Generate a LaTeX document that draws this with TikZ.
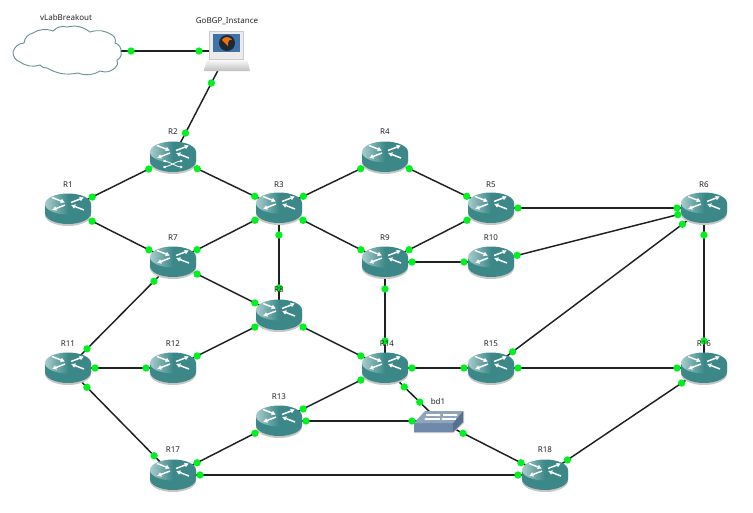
\documentclass[tikz,border=0pt]{standalone}
\usepackage{fontspec}
\setmainfont{Noto Sans}
\usetikzlibrary{arrows.meta,calc}
\definecolor{rbody}{HTML}{3C8888}
\definecolor{rdark}{HTML}{2F7777}
\definecolor{rlight}{HTML}{A9CCCC}
\definecolor{lnk}{HTML}{1E2222}
\definecolor{dotc}{HTML}{00F020}
\definecolor{cloudc}{HTML}{6E9294}
\definecolor{swfront}{HTML}{6F89AA}
\definecolor{swside}{HTML}{55708F}
\definecolor{swtop}{HTML}{8EA4BD}
\definecolor{lapscreen}{HTML}{3F73A8}
\definecolor{lapdark}{HTML}{1E2A33}
\definecolor{laporange}{HTML}{F07010}
\tikzset{
  x=0.75pt,y=-0.75pt,
  anchorhub/.style={circle,minimum size=40.5pt,inner sep=0pt,outer sep=0pt},
  linkline/.style={draw=lnk,line width=1.1pt},
  portdot/.style={circle,fill=dotc,minimum size=5.5pt,inner sep=0pt},
  lab/.style={font=\fontsize{6}{7}\selectfont,text=black!85,inner sep=0pt},
  arw/.style={white,line width=1.1pt,-{Latex[length=3.2pt,width=3.8pt]}},
  pics/routericon/.style={code={
    \fill[black!22] (-23,-5) -- (-23,6) arc[start angle=180,end angle=0,x radius=23,y radius=11] -- (23,-5) -- cycle;
    \fill[rbody] (-23,-5) -- (-23,4) arc[start angle=180,end angle=0,x radius=23,y radius=11] -- (23,-5) -- cycle;
    \shade[left color=rlight,right color=rbody,middle color=rbody] (0,-5) circle[x radius=23,y radius=10.5];
    \draw[arw] (-16,-11.5) -- (-3,-6.5);
    \draw[arw] (16,1) -- (3,-4);
    \draw[arw] (3,-6.5) -- (16,-11.5);
    \draw[arw] (-3,-4) -- (-16,1);
  }},
  pics/switchmark/.style={code={
    \draw[white,line width=0.6pt,-{Latex[length=2pt,width=2.2pt]}] (-10,4) .. controls (-3,4) and (3,10) .. (10,10);
    \draw[white,line width=0.6pt,-{Latex[length=2pt,width=2.2pt]}] (-10,10) .. controls (-3,10) and (3,4) .. (10,4);
    \draw[white,line width=0.6pt,{Latex[length=2pt,width=2.2pt]}-] (-10,4) -- (-9,4);
    \draw[white,line width=0.6pt,{Latex[length=2pt,width=2.2pt]}-] (-10,10) -- (-9,10);
  }}
}
\begin{document}
\begin{tikzpicture}
\useasboundingbox (0,0) rectangle (753,512);
\fill[white] (0,0) rectangle (753,512);
% anchors
\foreach \n/\px/\py in {R1/68/209,R2/173/157,R3/279/208,R4/385/157,R5/491/208,R6/704/208,R7/173/262,R8/279/315,R9/385/262,R10/491/262,R11/68/368,R12/173/368,R13/279/421,R14/385/368,R15/491/368,R16/704/368,R17/173/475,R18/545/475,bd1/439/421}
  \node[anchorhub] (\n) at (\px,\py) {};
\node[rectangle,minimum width=84pt,minimum height=30pt,inner sep=0pt,outer sep=0pt] (cloud) at (75,51) {};
\node[rectangle,minimum width=43.5pt,minimum height=48pt,inner sep=0pt,outer sep=0pt] (gobgp) at (228,51) {};
% lines
\def\links{cloud/gobgp,gobgp/R2,R2/R1,R2/R3,R1/R7,R3/R7,R3/R4,R3/R8,R3/R9,R4/R5,R5/R9,R5/R6,R6/R10,R6/R15,R6/R16,R7/R8,R7/R11,R8/R12,R8/R14,R9/R10,R9/R14,R11/R12,R11/R17,R13/R14,R13/R17,R13/bd1,R14/R15,R14/bd1,R15/R16,R16/R18,R17/R18,R18/bd1}
\foreach \a/\b in \links
  \draw[linkline] (\a.center) -- (\b.center);
% routers
\foreach \n in {R1,R2,R3,R4,R5,R6,R7,R8,R9,R10,R11,R12,R13,R14,R15,R16,R17,R18}
  \pic at (\n.center) {routericon};
\pic at (R2.center) {switchmark};
% switch bd1
\fill[black!22] (414,423) -- (414,433) -- (453,433) -- (464,423) -- (464,411) -- cycle;
\fill[swfront] (414,423) -- (453,423) -- (453,432) -- (414,432) -- cycle;
\fill[swside] (453,423) -- (463,411) -- (463,422) -- (453,432) -- cycle;
\fill[swtop] (414,423) -- (425,411) -- (463,411) -- (453,423) -- cycle;
\draw[white,line width=0.8pt,-{Latex[length=2pt,width=2.4pt]}] (426,415) -- (441,415);
\draw[white,line width=0.8pt,-{Latex[length=2pt,width=2.4pt]}] (440,419) -- (424,419);
\draw[white,line width=0.8pt,-{Latex[length=2pt,width=2.4pt]}] (443,415) -- (458,415);
\draw[white,line width=0.8pt,-{Latex[length=2pt,width=2.4pt]}] (456,419) -- (441,419);
% cloud
\draw[draw=cloudc,fill=white,line width=0.7pt]
  (13,52) to[bend left=35] (24,43) to[bend left=35] (33,33) to[bend left=25] (53,31)
  to[bend left=30] (67,27) to[bend left=25] (90,32) to[bend left=25] (112,35)
  to[bend left=40] (115,43) to[bend left=40] (121,52) to[bend left=40] (117,60)
  to[bend left=40] (115,68) to[bend left=30] (100,71) to[bend left=25] (78,73)
  to[bend left=20] (47,68) to[bend left=30] (40,65) to[bend left=25] (20,62) to[bend left=35] (13,52);
% laptop
\shade[top color=white,bottom color=black!25] (207,59) -- (247,59) -- (250,71) -- (204,71) -- cycle;
\fill[black!8,draw=black!20,line width=0.3pt] (209,31) rectangle (243,59);
\fill[lapscreen] (213,34) rectangle (240,52);
\fill[lapdark] (227,43) circle[radius=8];
\fill[laporange] (222,40) .. controls (224,36) and (230,36) .. (232,40) .. controls (229,39) and (228,41) .. (228,46) .. controls (226,44) and (224,42) .. (222,40) -- cycle;
% dots
\foreach \a/\b in \links
  \path (\a) -- node[portdot,pos=0]{} node[portdot,pos=1]{} (\b);
% labels
\foreach \n/\px/\py in {R1/68/185,R2/173/132,R3/279/185,R4/385/132,R5/491/185,R6/704/185,R7/173/238,R8/279/290,R9/385/238,R10/491/238,R11/68/344,R12/173/344,R13/279/397,R14/387/344,R15/491/344,R16/704/344,R17/173/450,R18/545/450,bd1/438/401}
  \node[lab] (label\n) at (\px,\py) {\n};
\node[lab] (labelcloud) at (66,17) {vLabBreakout};
\node[lab] (labelgobgp) at (227,21) {GoBGP\_Instance};
\end{tikzpicture}
\end{document}
